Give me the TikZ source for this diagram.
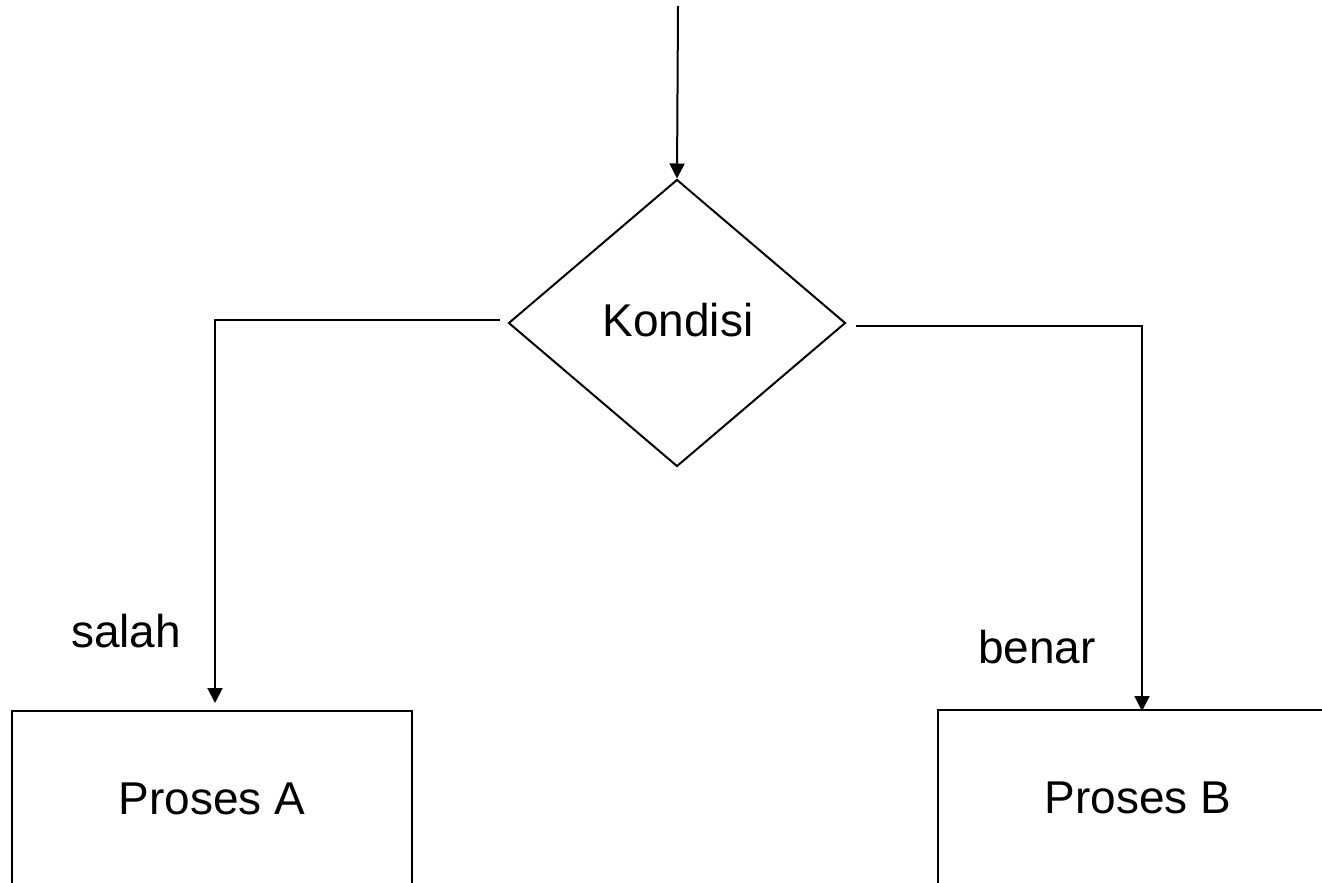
\documentclass[tikz,border=0pt]{standalone}
\usepackage{fontspec}
\setmainfont{Liberation Sans}
\usetikzlibrary{shapes.geometric,arrows.meta,calc}
\begin{document}
\begin{tikzpicture}[x=1pt,y=-1pt,
  every node/.style={font=\fontsize{46}{55}\selectfont, inner sep=0pt},
  line/.style={line width=2pt, draw=black},
  flow/.style={line, -{Triangle[length=15pt,width=15pt]}},
  decision/.style={line, diamond, minimum width=337pt, minimum height=287pt},
  procbox/.style={line, rectangle, minimum width=400pt, minimum height=176pt}]
  \useasboundingbox (0,0) rectangle (1322,883);
  \clip (0,0) rectangle (1322,883);
  \fill[white] (0,0) rectangle (1322,883);

  % decision and the two processes
  \node[decision] (cond) at (677,323) {};
  \node (condtext) at (678,320) {Kondisi};
  \node[procbox] (pa) at (212,799) {Proses A};
  \node[procbox] (pb) at (1138,798) {Proses B};

  % entry and branch points
  \coordinate (start) at (678,6);
  \coordinate (lbend) at (215,320);
  \coordinate (rbend) at (1142,326);
  \coordinate (aend) at (215,711);
  \coordinate (bend) at (1142,711);

  % connectors
  \draw[flow] (start) -- (cond.north);
  \draw[flow, shorten >=8pt] ($(cond.west)+(-8,-3)$) -- (lbend) -- (aend);
  \draw[flow] ($(cond.east)+(9,3)$) -- (rbend) -- (bend);

  % branch labels
  \node[anchor=base west] (salah) at (71,647) {salah};
  \node[anchor=base west] (benar) at (978,663) {benar};
\end{tikzpicture}
\end{document}
